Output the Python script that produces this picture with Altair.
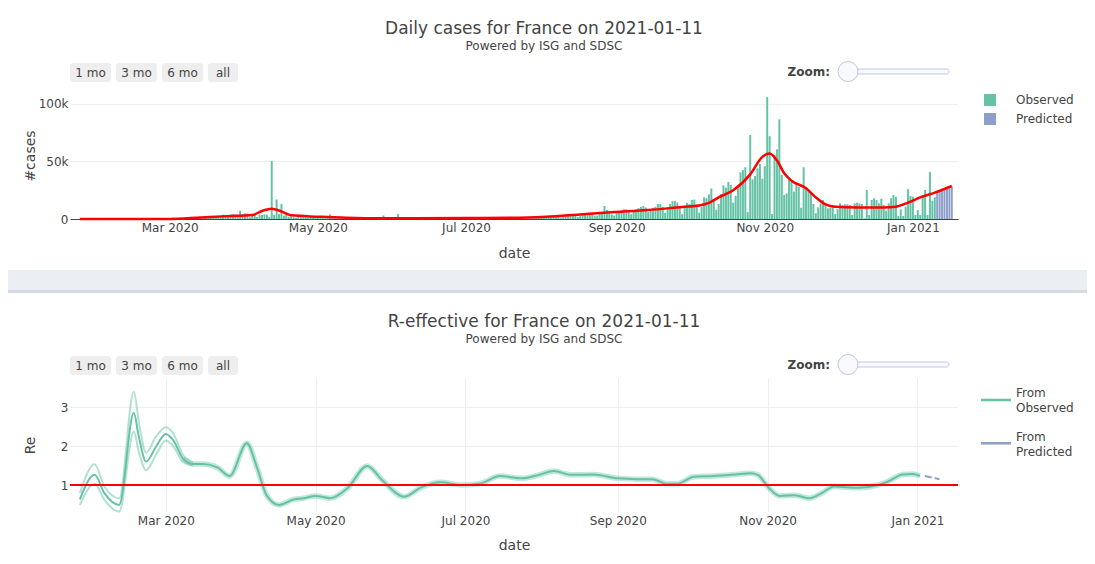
import altair as alt
import pandas as pd

# ---------------- colours / fonts ----------------
GREEN = "#66c2a5"
BLUE = "#8da0cb"
RED = "#ff0000"
INK = "#444444"
FONT = "DejaVu Sans"

# ---------------- daily cases (thousands) ----------------
cases_jan20 = [0.002, 0.001, 0.0, 0.0, 0.001, 0.0, 0.0, 0.001]  # from 24 Jan
cases_feb20 = [0.0, 0.001, 0.0, 0.0, 0.0, 0.0, 0.0, 0.0, 0.0, 0.0,
               0.0, 0.0, 0.0, 0.0, 0.0, 0.0, 0.0, 0.0, 0.0, 0.0,
               0.0, 0.0, 0.0, 0.0, 0.002, 0.004, 0.02, 0.02, 0.043]
cases_mar20 = [0.03, 0.06, 0.02, 0.07, 0.1, 0.3, 0.2, 0.1, 0.3, 0.4, 0.5, 0.6, 0.8, 0.9, 1.0, 0.9,
               1.1, 1.4, 1.8, 1.6, 1.8, 1.6, 3.8, 2.4, 2.9, 3.9, 4.3, 3.6, 2.6, 7.2, 4.4]
cases_apr20 = [5.0, 4.8, 1.5, 3.2, 3.6, 1.8, 3.7, 3.4, 4.2, 3.8, 2.0, 50.4, 3.5, 17.0, 4.5,
               13.0, 3.0, 4.0, 2.0, 2.5, 1.8, 1.0, 2.6, 1.5, 1.7, 2.6, 1.3, 1.6, 1.0, 2.5]
cases_may20 = [1.0, 0.8, 1.2, 0.6, 0.9, 4.0, 1.1, 0.8, 0.6, 0.5, 0.7, 0.8, 0.6, 0.5, 0.7, 0.6,
               0.4, 0.5, 0.6, 0.5, 0.4, 0.6, 0.5, 0.4, 0.3, 0.5, 0.6, 3.0, 0.5, 0.4, 0.3]
cases_jun20 = [0.4, 0.5, 4.3, 0.5, 0.6, 0.4, 0.3, 0.3, 0.5, 0.6, 0.5, 0.5, 0.4, 0.3, 0.3,
               0.5, 0.5, 0.6, 0.5, 0.4, 0.3, 0.4, 0.6, 0.5, 0.6, 0.5, 0.4, 0.3, 0.5, 0.6]
cases_jul20 = [0.5, 0.6, 0.6, 0.5, 0.3, 0.4, 0.6, 0.5, 0.7, 0.6, 0.7, 0.4, 0.5, 0.5, 0.6, 0.8,
               0.9, 0.8, 0.6, 0.5, 0.8, 1.0, 1.1, 1.2, 1.0, 0.5, 0.7, 1.3, 1.4, 1.4, 1.3]
cases_aug20 = [1.5, 1.2, 0.8, 2.5, 2.0, 2.2, 3.5, 2.5, 1.2, 1.8, 2.8, 3.0, 3.4, 4.3, 3.5, 1.8,
               2.5, 3.5, 4.0, 4.7, 5.0, 4.5, 2.5, 3.0, 5.0, 5.5, 11.3, 7.8, 5.5, 4.0, 3.0]
cases_sep20 = [5.0, 7.0, 7.2, 8.4, 8.5, 7.0, 4.2, 6.5, 8.5, 9.4, 10.5, 11.3, 10.0, 6.0, 7.8,
               9.8, 10.6, 13.0, 13.0, 10.6, 5.3, 10.0, 13.0, 15.6, 15.6, 14.4, 11.0, 4.3, 10.0, 14.0]
cases_oct20 = [13.0, 16.5, 16.9, 12.6, 5.5, 10.5, 18.8, 18.1, 21.4, 26.6, 17.0, 8.0, 13.0, 21.7,
               29.3, 27.2, 32.2, 29.6, 14.2, 20.0, 26.7, 40.6, 42.6, 45.0, 6.0, 73.0, 34.5, 37.4,
               44.0, 47.8, 35.0]
cases_nov20 = [46.0, 106.0, 72.0, 4.3, 55.6, 60.6, 86.7, 38.3, 20.9, 22.3, 35.4, 32.5, 23.8, 31.0,
               28.0, 9.8, 45.0, 28.0, 24.3, 22.9, 13.0, 5.0, 10.1, 13.6, 16.5, 13.6, 9.3, 9.8, 10.2, 4.3]
cases_dec20 = [8.4, 13.6, 12.2, 12.8, 12.8, 12.2, 3.5, 13.6, 14.2, 13.6, 13.0, 0.6, 25.2, 3.5, 16.5,
               18.0, 16.5, 13.6, 17.7, 12.2, 7.2, 13.6, 18.0, 20.9, 19.4, 2.6, 8.4, 2.6, 10.7, 26.0, 20.0]
cases_jan21 = [19.4, 3.5, 7.8, 3.5, 20.0, 25.2, 3.5, 41.0, 15.9, 19.0]  # to 10 Jan
pred_jan21 = [23.5, 24.2, 25.0, 25.8, 26.6, 27.3, 28.0]  # 11-17 Jan, predicted

# smoothed red curve (thousands)
smooth_dates = ["2020-01-24", "2020-03-01", "2020-03-14", "2020-03-25", "2020-04-04", "2020-04-08",
                "2020-04-12", "2020-04-16", "2020-04-20", "2020-05-01", "2020-05-20", "2020-06-10",
                "2020-07-01", "2020-07-20", "2020-08-03", "2020-08-17", "2020-08-31", "2020-09-14",
                "2020-09-28", "2020-10-05", "2020-10-09", "2020-10-13", "2020-10-19", "2020-10-26",
                "2020-10-31", "2020-11-03", "2020-11-06", "2020-11-09", "2020-11-12", "2020-11-18",
                "2020-11-22", "2020-11-26", "2020-11-30", "2020-12-10", "2020-12-20", "2020-12-25",
                "2020-12-30", "2021-01-04", "2021-01-10", "2021-01-17"]
smooth_k = [0.0, 0.05, 1.4, 2.5, 3.5, 7.0, 9.0, 6.5, 3.2, 2.0, 0.7, 0.6, 0.8, 1.0, 2.0, 4.0, 6.0,
            7.8, 10.5, 11.8, 14.0, 18.8, 25.0, 38.8, 54.0, 57.0, 51.0, 39.7, 33.3, 26.7, 18.8, 12.8,
            10.7, 10.1, 10.0, 10.7, 14.2, 18.8, 22.9, 28.7]

# ---------------- R-effective ----------------
re_dates = ["2020-01-26", "2020-02-01", "2020-02-05", "2020-02-11", "2020-02-17", "2020-02-19",
            "2020-02-22", "2020-02-26", "2020-03-01", "2020-03-04", "2020-03-08", "2020-03-12",
            "2020-03-16", "2020-03-22", "2020-03-27", "2020-04-03", "2020-04-07", "2020-04-11",
            "2020-04-16", "2020-04-22", "2020-04-26", "2020-05-01", "2020-05-07", "2020-05-14",
            "2020-05-22", "2020-05-28", "2020-06-06", "2020-06-13", "2020-06-21", "2020-06-29",
            "2020-07-07", "2020-07-15", "2020-07-24", "2020-07-31", "2020-08-06", "2020-08-13",
            "2020-08-22", "2020-09-01", "2020-09-09", "2020-09-15", "2020-09-21", "2020-09-25",
            "2020-10-02", "2020-10-10", "2020-10-19", "2020-10-25", "2020-10-28", "2020-11-01",
            "2020-11-06", "2020-11-12", "2020-11-18", "2020-11-23", "2020-11-28", "2020-12-08",
            "2020-12-16", "2020-12-20", "2020-12-26", "2020-12-30", "2021-01-02"]
re_vals = [0.63, 1.26, 0.79, 0.49, 2.85, 2.24, 1.60, 1.98, 2.31, 2.15, 1.68, 1.54, 1.54, 1.45,
           1.23, 2.07, 1.47, 0.74, 0.49, 0.63, 0.66, 0.72, 0.66, 0.92, 1.49, 1.13, 0.70, 0.94,
           1.07, 1.00, 1.04, 1.23, 1.17, 1.26, 1.36, 1.26, 1.27, 1.17, 1.15, 1.15, 1.03, 1.03,
           1.21, 1.23, 1.27, 1.30, 1.26, 0.96, 0.72, 0.74, 0.66, 0.79, 0.96, 0.93, 1.00, 1.09,
           1.27, 1.28, 1.23]
band_dates = ["2020-01-26", "2020-02-01", "2020-02-05", "2020-02-11", "2020-02-17", "2020-02-19",
              "2020-02-22", "2020-02-26", "2020-03-01", "2020-03-04", "2020-03-08", "2020-03-12"]
band_upper = [0.79, 1.53, 0.96, 0.66, 3.39, 2.62, 1.83, 2.24, 2.48, 2.32, 1.77, 1.58]
band_lower = [0.49, 1.03, 0.62, 0.32, 2.37, 1.85, 1.38, 1.77, 2.14, 2.00, 1.59, 1.50]
re_pred_dates = ["2021-01-04", "2021-01-10"]
re_pred_vals = [1.23, 1.15]

tick_months = [(2020, 3), (2020, 5), (2020, 7), (2020, 9), (2020, 11), (2021, 1)]

# ---------------- tables ----------------
obs_k = (cases_jan20 + cases_feb20 + cases_mar20 + cases_apr20 + cases_may20 + cases_jun20 +
         cases_jul20 + cases_aug20 + cases_sep20 + cases_oct20 + cases_nov20 + cases_dec20 + cases_jan21)
obs_days = pd.date_range("2020-01-24", periods=len(obs_k), freq="D")
pred_days = pd.date_range(obs_days[-1] + pd.Timedelta(days=1), periods=len(pred_jan21), freq="D")
bars_df = pd.DataFrame({
    "date": [d.strftime("%Y-%m-%d") for d in obs_days] + [d.strftime("%Y-%m-%d") for d in pred_days],
    "cases": [v * 1000 for v in obs_k] + [v * 1000 for v in pred_jan21],
    "type": ["Observed"] * len(obs_k) + ["Predicted"] * len(pred_jan21),
})
smooth_df = pd.DataFrame({"date": smooth_dates, "cases": [v * 1000 for v in smooth_k]})
re_df = pd.DataFrame({"date": re_dates, "re": re_vals, "type": "Observed"})
halo_df = re_df[re_df["date"] >= "2020-03-08"]
band_df = pd.DataFrame({"date": band_dates, "upper": band_upper, "lower": band_lower})
re_pred_df = pd.DataFrame({"date": re_pred_dates, "re": re_pred_vals, "type": "Predicted"})
one = pd.DataFrame({"k": [0]})

# ---------------- scales / axes ----------------
def utc(y, m, d, h=0):
    return alt.DateTime(year=y, month=m, date=d, hours=h, utc=True)

xscale = alt.Scale(type="utc", domain=[utc(2020, 1, 22), utc(2021, 1, 17, 12)])
tick_values = [utc(y, m, 1) for (y, m) in tick_months]

xaxis_top = alt.Axis(values=tick_values, format="%b %Y", grid=False, ticks=False, domain=True,
                     domainColor=INK, domainWidth=1, labelPadding=3, labelFlush=False,
                     titleX=444, titleY=34, titleBaseline="middle", titleAlign="center")
xaxis_bot = alt.Axis(values=tick_values, format="%b %Y", grid=True, gridColor="#eeeeee",
                     ticks=False, domain=False, labelPadding=3, labelFlush=False,
                     titleX=444, titleY=33, titleBaseline="middle", titleAlign="center")

yscale_top = alt.Scale(domain=[0, 110430], nice=False, zero=True)
yaxis_top = alt.Axis(values=[0, 50000, 100000],
                     labelExpr="datum.value == 0 ? '0' : format(datum.value / 1000, 'd') + 'k'",
                     grid=True, gridColor="#eeeeee", ticks=False, domain=False, labelPadding=2,
                     titleX=-40, titleY=63.5, titleBaseline="middle", titleAlign="center")
yscale_bot = alt.Scale(domain=[0.3077, 3.7436], nice=False, zero=False)
yaxis_bot = alt.Axis(values=[1, 2, 3], format="d", grid=True, gridColor="#eeeeee",
                     ticks=False, domain=False, labelPadding=2,
                     titleX=-40, titleY=67, titleBaseline="middle", titleAlign="center")


# ---------------- decorative helpers (page furniture) ----------------
def vrect(x0, x1, y0, y1, **kw):
    return alt.Chart(one).mark_rect(**kw).encode(
        x=alt.value(x0), x2=alt.value(x1), y=alt.value(y0), y2=alt.value(y1))


def vtext(txt, x, y, **kw):
    return alt.Chart(one).mark_text(text=txt, font=FONT, color=INK, **kw).encode(
        x=alt.value(x), y=alt.value(y))


def vrule(x0, x1, y, color, **kw):
    return alt.Chart(one).mark_rule(color=color, **kw).encode(
        x=alt.value(x0), x2=alt.value(x1), y=alt.value(y))


def controls(ytop):
    layers = []
    for lab, x0, x1 in [("1 mo", 0, 41), ("3 mo", 46, 87), ("6 mo", 92, 133), ("all", 138, 168)]:
        layers.append(vrect(x0, x1, ytop, ytop + 19, color="#eeeeee", cornerRadius=3))
        layers.append(vtext(lab, (x0 + x1) / 2, ytop + 9.5, fontSize=12, align="center", baseline="middle"))
    layers.append(vtext("Zoom:", 760, ytop + 8.5, fontSize=12, fontWeight="bold", align="right",
                        baseline="middle"))
    layers.append(vrect(777, 879, ytop + 6, ytop + 11, color="#f8f9fc", stroke="#bec8d9",
                        strokeWidth=1, cornerRadius=2.5))
    layers.append(alt.Chart(one).mark_circle(size=400, color="#f8f9fc", stroke="#bec8d9",
                                             strokeWidth=1, opacity=1).encode(
        x=alt.value(778), y=alt.value(ytop + 8.5)))
    return layers


# ---------------- top panel ----------------
xt = alt.X("date:T", scale=xscale, axis=xaxis_top, title="date")
yt = alt.Y("cases:Q", scale=yscale_top, axis=yaxis_top, title="#cases")

bars = alt.Chart(bars_df).mark_bar(size=2).encode(
    x=xt, y=yt,
    color=alt.Color("type:N", scale=alt.Scale(domain=["Observed", "Predicted"], range=[GREEN, BLUE]),
                    legend=alt.Legend(title=None, orient="none", legendX=914, legendY=2,
                                      symbolType="square", symbolSize=144, symbolStrokeWidth=0,
                                      labelOffset=20, rowPadding=7)),
)
smooth = alt.Chart(smooth_df).mark_line(color=RED, strokeWidth=2.5, interpolate="monotone").encode(
    x=xt, y=yt)

top_layers = [vrect(-62, 1017, -84, 178, opacity=0)]
top_layers += controls(-29)
top_layers += [
    vtext("Daily cases for France on 2021-01-11", 474, -63.5, fontSize=17, align="center", baseline="middle"),
    vtext("Powered by ISG and SDSC", 474, -46, fontSize=12, align="center", baseline="middle"),
    bars, smooth,
]
top = alt.layer(*top_layers).properties(width=888, height=127)

# ---------------- bottom panel ----------------
xb = alt.X("date:T", scale=xscale, axis=xaxis_bot, title="date")
color_re = alt.Color("type:N", scale=alt.Scale(domain=["Observed", "Predicted"], range=[GREEN, BLUE]),
                     legend=None)

upper = alt.Chart(band_df).mark_line(color=GREEN, opacity=0.5, strokeWidth=2, interpolate="monotone").encode(
    x=xb, y=alt.Y("upper:Q", scale=yscale_bot, axis=yaxis_bot, title="Re"))
lower = alt.Chart(band_df).mark_line(color=GREEN, opacity=0.5, strokeWidth=2, interpolate="monotone").encode(
    x=xb, y=alt.Y("lower:Q", scale=yscale_bot, axis=yaxis_bot, title="Re"))
halo = alt.Chart(halo_df).mark_line(color=GREEN, opacity=0.4, strokeWidth=5.5, interpolate="monotone").encode(
    x=xb, y=alt.Y("re:Q", scale=yscale_bot, axis=yaxis_bot, title="Re"))
main = alt.Chart(re_df).mark_line(strokeWidth=2, interpolate="monotone").encode(
    x=xb, y=alt.Y("re:Q", scale=yscale_bot, axis=yaxis_bot, title="Re"), color=color_re)
pred = alt.Chart(re_pred_df).mark_line(strokeWidth=2, strokeDash=[7, 3]).encode(
    x=xb, y=alt.Y("re:Q", scale=yscale_bot, axis=yaxis_bot, title="Re"), color=color_re)
one_line = alt.Chart(one).mark_rule(color=RED, strokeWidth=2).encode(
    y=alt.Y(datum=1, scale=yscale_bot, axis=yaxis_bot, title="Re"))

# legend of the R-effective panel (two-line labels)
re_legend = [
    vrule(911, 941, 22, GREEN, strokeWidth=2.5),
    vtext(["From", "Observed"], 946, 14.5, fontSize=12, align="left", baseline="middle", lineHeight=15),
    vrule(911, 941, 65.3, BLUE, strokeWidth=2.5),
    vtext(["From", "Predicted"], 946, 58.5, fontSize=12, align="left", baseline="middle", lineHeight=15),
]

bot_layers = [
    vrect(-62, 1017, -108, 166, opacity=0),
    vrect(-62, 1017, -108, -88, color="#ebeef3"),
    vrect(-62, 1017, -88, -85, color="#d6dae2"),
]
bot_layers += controls(-22)
bot_layers += [
    vtext("R-effective for France on 2021-01-11", 474, -56.5, fontSize=17, align="center", baseline="middle"),
    vtext("Powered by ISG and SDSC", 474, -39, fontSize=12, align="center", baseline="middle"),
    upper, lower, halo, main, pred, one_line,
]
bot_layers += re_legend
bot = alt.layer(*bot_layers).properties(width=888, height=134)

chart = (
    alt.vconcat(top, bot, spacing=0)
    .resolve_scale(color="independent")
    .resolve_legend(color="independent")
    .properties(padding={"left": 0, "top": 0, "right": 0, "bottom": 0}, background="white")
    .configure_view(stroke=None)
    .configure_axis(labelFont=FONT, labelFontSize=12, labelColor=INK, titleFont=FONT,
                    titleFontSize=14, titleFontWeight="normal", titleColor=INK)
    .configure_legend(labelFont=FONT, labelFontSize=12, labelColor=INK)
)
chart.save("out.html", embed_options={"renderer": "svg", "actions": False})
